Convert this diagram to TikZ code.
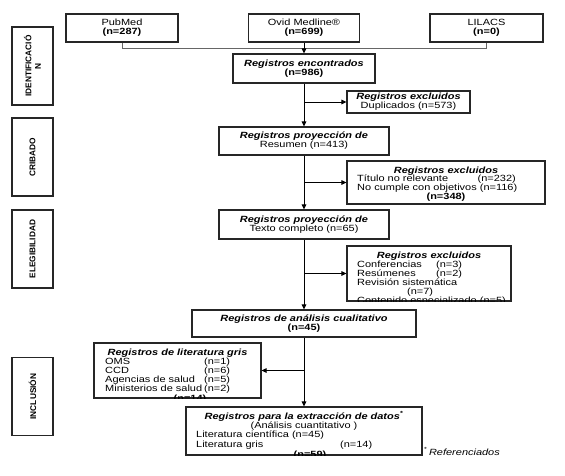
\documentclass[tikz,border=0pt]{standalone}
\usepackage{fontspec}
\setmainfont{Liberation Sans}[FakeStretch=1.22]
\newfontfamily\lblfont{Liberation Sans}
\usetikzlibrary{arrows.meta}
\begin{document}
\begin{tikzpicture}[x=1pt,y=-1pt,
  box/.style={draw=black!85,line width=1.1pt,rectangle,inner sep=0pt},
  txt/.style={font=\fontsize{9}{9.2}\selectfont,align=center},
  lbl/.style={draw=black!85,line width=1.1pt,rectangle,inner sep=0pt,minimum width=41pt,minimum height=78pt},
  lbltext/.style={font=\lblfont\fontsize{8.3}{9.4}\selectfont\bfseries,rotate=90,align=center,inner sep=0pt},
  ln/.style={font=\fontsize{9}{9.2}\selectfont,inner sep=0pt,anchor=base west},
  lnc/.style={font=\fontsize{9}{9.2}\selectfont,inner sep=0pt,anchor=base},
  arr/.style={line width=1pt,draw=black,-{Triangle[length=5pt,width=4.5pt]}},
  gline/.style={line width=0.8pt,draw=black!60}
]
\useasboundingbox (0,0) rectangle (565,475);

% phase labels
\node[lbl] (lid) at (32.5,66) {};
\node[lbltext] (lidt) at (lid.center) {IDENTIFICACIÓ\\N};
\node[lbl] (lcr) at (32.5,157) {};
\node[lbltext] (lcrt) at (lcr.center) {CRIBADO};
\node[lbl] (lel) at (32.5,249) {};
\node[lbltext] (lelt) at (lel.center) {ELEGIBILIDAD};
\node[lbl] (lin) at (32.5,396.5) {};
\node[lbltext] (lint) at (lin.center) {INCLUSIÓN};

% sources
\node[box,txt,minimum width=112pt,minimum height=28pt] (pub) at (122,28) {PubMed\\\textbf{(n=287)}};
\node[box,txt,minimum width=111pt,minimum height=28pt] (ovid) at (304,28) {Ovid Medline®\\\textbf{(n=699)}};
\node[box,txt,minimum width=113pt,minimum height=28pt] (lil) at (486.5,28) {LILACS\\\textbf{(n=0)}};

% main column
\node[box,txt,minimum width=142pt,minimum height=29pt] (enc) at (304,68.5) {\textbf{\textit{Registros encontrados}}\\\textbf{(n=986)}};
\node[box,txt,minimum width=123pt,minimum height=22pt] (ex1) at (408.5,102) {\textbf{\textit{Registros excluidos}}\\Duplicados (n=573)};
\node[box,txt,minimum width=170pt,minimum height=28pt] (proy) at (304,141) {\textbf{\textit{Registros proyección de}}\\Resumen (n=413)};
\node[box,minimum width=198pt,minimum height=43pt] (ex2) at (446,182.5) {};
\node[box,txt,minimum width=170pt,minimum height=29pt] (texto) at (304,224.5) {\textbf{\textit{Registros proyección de}}\\Texto completo (n=65)};
\node[box,minimum width=164pt,minimum height=55pt] (ex3) at (429,273.5) {};
\node[box,txt,minimum width=224pt,minimum height=27pt] (cual) at (304,323.5) {\textbf{\textit{Registros de análisis cualitativo}}\\\textbf{(n=45)}};
\node[box,minimum width=167pt,minimum height=55pt] (lit) at (177.5,370.5) {};
\node[box,minimum width=236pt,minimum height=48pt] (ext) at (304,431) {};

% excluded 2 text
\node[lnc] (e2a) at (446,173) {\textbf{\textit{Registros excluidos}}};
\node[ln] (e2b) at (357,181.5) {Título no relevante};
\node[ln,anchor=base east] (e2c) at (516,181.5) {(n=232)};
\node[ln] (e2d) at (357,190.5) {No cumple con objetivos (n=116)};
\node[lnc] (e2e) at (446,199.5) {\textbf{(n=348)}};

% excluded 3 text (clipped)
\begin{scope}
\clip (ex3.south west) rectangle (ex3.north east);
\node[lnc] (e3a) at (429,258) {\textbf{\textit{Registros excluidos}}};
\node[ln] (e3b) at (357,267) {Conferencias};
\node[ln] (e3c) at (436,267) {(n=3)};
\node[ln] (e3d) at (357,276) {Resúmenes};
\node[ln] (e3e) at (436,276) {(n=2)};
\node[ln] (e3f) at (357,285) {Revisión sistemática};
\node[ln] (e3g) at (407,294) {(n=7)};
\node[ln] (e3h) at (357,303.5) {Contenido especializado (n=5)};
\end{scope}

% grey literature text (clipped)
\begin{scope}
\clip (lit.south west) rectangle (lit.north east);
\node[lnc] (l1) at (177.5,355) {\textbf{\textit{Registros de literatura gris}}};
\node[ln] (l2) at (105,364.2) {OMS};
\node[ln] (l2n) at (204,364.2) {(n=1)};
\node[ln] (l3) at (105,373.4) {CCD};
\node[ln] (l3n) at (204,373.4) {(n=6)};
\node[ln] (l4) at (105,382.6) {Agencias de salud};
\node[ln] (l4n) at (204,382.6) {(n=5)};
\node[ln] (l5) at (105,391.8) {Ministerios de salud};
\node[ln] (l5n) at (204,391.8) {(n=2)};
\node[lnc] (l6) at (190,401) {\textbf{(n=14)}};
\end{scope}

% extraction text (clipped)
\begin{scope}
\clip (ext.south west) rectangle (ext.north east);
\node[lnc] (x1) at (304,419) {\textbf{\textit{Registros para la extracción de datos\textsuperscript{*}}}};
\node[lnc] (x2) at (304,428.4) {(Análisis cuantitativo )};
\node[ln] (x3) at (196,437.8) {Literatura científica (n=45)};
\node[ln] (x4) at (196,447.2) {Literatura gris};
\node[ln] (x4n) at (340,447.2) {(n=14)};
\node[lnc] (x5) at (310,457) {\textbf{(n=59)}};
\end{scope}

\node[ln] (ref) at (424,455) {\textsuperscript{*}\,\textit{Referenciados}};

% connectors
\draw[gline] (pub.south) -- ++(0,6) -| (lil.south);
\draw[arr] (ovid.south) -- (enc.north);
\draw[arr] (enc.south) -- (proy.north);
\draw[arr] (enc.south |- ex1.west) -- (ex1.west);
\draw[arr] (proy.south) -- (texto.north);
\draw[arr] (proy.south |- ex2.west) -- (ex2.west);
\draw[arr] (texto.south) -- (cual.north);
\draw[arr] (texto.south |- ex3.west) -- (ex3.west);
\draw[arr] (cual.south) -- (ext.north);
\draw[arr] (cual.south |- lit.east) -- (lit.east);
\end{tikzpicture}
\end{document}
